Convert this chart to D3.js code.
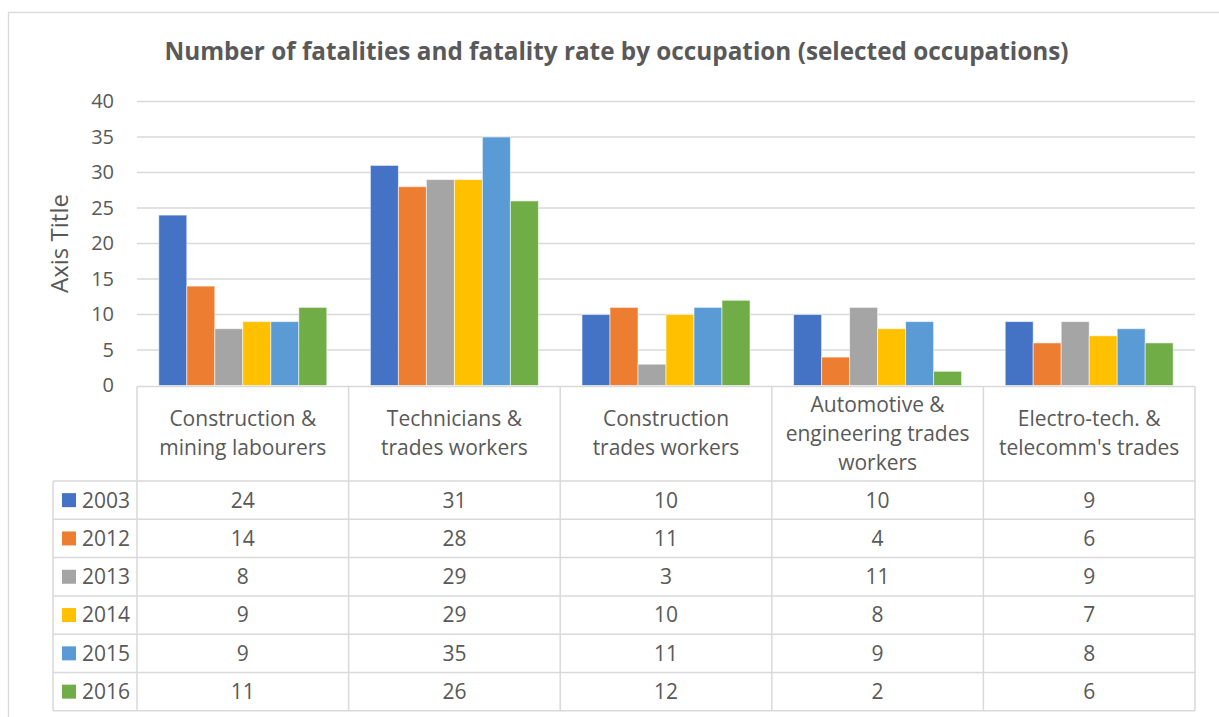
<!DOCTYPE html>
<html>
<head>
<meta charset="utf-8">
<script src="https://cdn.jsdelivr.net/npm/d3@7"></script>
<style>
  html, body { margin: 0; padding: 0; background: #fff; }
  svg { display: block; }
  text { font-family: "Open Sans", "DejaVu Sans", sans-serif; fill: #595959; }
</style>
</head>
<body>
<svg id="chart" width="1219" height="717"></svg>
<script>
// ---- Data ----
const title = "Number of fatalities and fatality rate by occupation (selected occupations)";
const yAxisTitle = "Axis Title";
const categories = [
  "Construction & mining labourers",
  "Technicians & trades workers",
  "Construction trades workers",
  "Automotive & engineering trades workers",
  "Electro-tech. & telecomm's trades"
];
const categoryLabelLines = [
  ["Construction &", "mining labourers"],
  ["Technicians &", "trades workers"],
  ["Construction", "trades workers"],
  ["Automotive &", "engineering trades", "workers"],
  ["Electro-tech. &", "telecomm's trades"]
];
const years = ["2003", "2012", "2013", "2014", "2015", "2016"];
const values2003 = [24, 31, 10, 10, 9];
const values2012 = [14, 28, 11, 4, 6];
const values2013 = [8, 29, 3, 11, 9];
const values2014 = [9, 29, 10, 8, 7];
const values2015 = [9, 35, 11, 9, 8];
const values2016 = [11, 26, 12, 2, 6];
const yTicks = [0, 5, 10, 15, 20, 25, 30, 35, 40];
const colors = ["#4472C4", "#ED7D31", "#A5A5A5", "#FFC000", "#5B9BD5", "#70AD47"];

const seriesValues = [values2003, values2012, values2013, values2014, values2015, values2016];
const series = years.map((y, i) => ({ year: y, color: colors[i], values: seriesValues[i] }));

// ---- Layout ----
const svg = d3.select("#chart");
const plotLeft = 137, plotRight = 1195, plotTop = 101.5, plotBottom = 385.5;
const headerBottom = 481, rowH = 38.3, tableLeft = 53;
const gridColor = "#d9d9d9";
const tableFont = 21;

// outer chart border
svg.append("rect")
  .attr("x", 8.5).attr("y", 12.5).attr("width", 1240).attr("height", 730)
  .attr("fill", "#fff").attr("stroke", gridColor).attr("stroke-width", 1.3);

// title
svg.append("text")
  .attr("x", 616.5).attr("y", 60)
  .attr("text-anchor", "middle")
  .attr("font-size", 24.3).attr("font-weight", "bold")
  .text(title);

const x0 = d3.scaleBand().domain(categories).range([plotLeft, plotRight]).paddingInner(0).paddingOuter(0);
const groupPad = (x0.bandwidth() - 168) / 2;
const x1 = d3.scaleBand().domain(years).range([groupPad, x0.bandwidth() - groupPad]).padding(0);
const y = d3.scaleLinear().domain([0, 40]).range([plotBottom, plotTop]);

// gridlines
svg.append("g").selectAll("line").data(yTicks.filter(d => d > 0)).join("line")
  .attr("x1", plotLeft).attr("x2", plotRight)
  .attr("y1", d => y(d)).attr("y2", d => y(d))
  .attr("stroke", gridColor).attr("stroke-width", 1.3);

// y axis via d3.axisLeft (labels only)
const yAxis = svg.append("g")
  .attr("transform", `translate(${plotLeft - 23},0)`)
  .call(d3.axisLeft(y).tickValues(yTicks).tickSize(0).tickPadding(0));
yAxis.select(".domain").remove();
yAxis.selectAll("text")
  .attr("font-size", 20).attr("fill", "#595959")
  .style("font-family", '"Open Sans", sans-serif');

// y axis title
svg.append("text")
  .attr("transform", `translate(68,${(plotTop + plotBottom) / 2}) rotate(-90)`)
  .attr("text-anchor", "middle")
  .attr("font-size", 24)
  .text(yAxisTitle);

// bars
const groups = svg.append("g").selectAll("g").data(series).join("g")
  .attr("fill", d => d.color);
groups.selectAll("rect")
  .data(d => d.values.map((v, i) => ({ year: d.year, cat: categories[i], v })))
  .join("rect")
  .attr("x", d => x0(d.cat) + x1(d.year))
  .attr("width", x1.bandwidth())
  .attr("y", d => y(d.v))
  .attr("height", d => y(0) - y(d.v))
  .attr("stroke", "rgba(255,255,255,0.55)")
  .attr("stroke-width", 1);

// ---- Data table ----
const table = svg.append("g").attr("fill", "none").attr("stroke", gridColor).attr("stroke-width", 1.5);
table.append("line").attr("x1", plotLeft).attr("x2", plotRight).attr("y1", plotBottom + 1).attr("y2", plotBottom + 1);
const rowYs = d3.range(years.length + 1).map(i => headerBottom + i * rowH);
table.selectAll("line.row").data(rowYs).join("line").attr("class", "row")
  .attr("x1", tableLeft).attr("x2", plotRight)
  .attr("y1", d => d).attr("y2", d => d);
const colXs = categories.map(c => x0(c)).concat([plotRight]);
table.selectAll("line.col").data(colXs).join("line").attr("class", "col")
  .attr("x1", d => d).attr("x2", d => d)
  .attr("y1", plotBottom + 1).attr("y2", rowYs[rowYs.length - 1]);
table.append("line").attr("x1", tableLeft).attr("x2", tableLeft)
  .attr("y1", headerBottom).attr("y2", rowYs[rowYs.length - 1]);

// header labels
const headerMid = (plotBottom + headerBottom) / 2;
const lineH = 29;
categories.forEach((c, i) => {
  const lines = categoryLabelLines[i];
  const cx = x0(c) + x0.bandwidth() / 2;
  const startY = headerMid - (lines.length - 1) * lineH / 2;
  svg.append("text")
    .attr("x", cx).attr("text-anchor", "middle")
    .attr("font-size", tableFont)
    .selectAll("tspan").data(lines).join("tspan")
    .attr("x", cx)
    .attr("y", (d, j) => startY + j * lineH)
    .attr("dy", "0.35em")
    .text(d => d);
});

// rows
series.forEach((s, r) => {
  const cy = rowYs[r] + rowH / 2;
  svg.append("rect")
    .attr("x", 62).attr("y", cy - 7).attr("width", 14).attr("height", 14)
    .attr("fill", s.color);
  svg.append("text")
    .attr("x", 82).attr("y", cy).attr("dy", "0.35em")
    .attr("font-size", tableFont)
    .text(s.year);
  s.values.forEach((v, i) => {
    svg.append("text")
      .attr("x", x0(categories[i]) + x0.bandwidth() / 2)
      .attr("y", cy).attr("dy", "0.35em")
      .attr("text-anchor", "middle")
      .attr("font-size", tableFont)
      .text(v);
  });
});
</script>
</body>
</html>
